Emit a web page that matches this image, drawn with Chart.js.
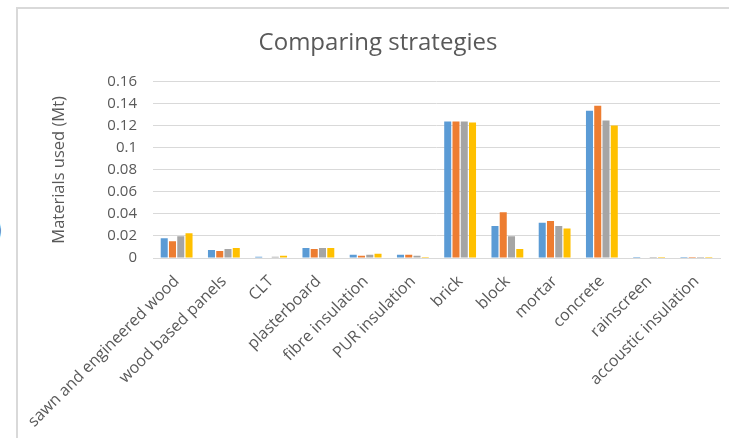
<!DOCTYPE html>
<html>
<head>
<meta charset="utf-8">
<script src="https://cdn.jsdelivr.net/npm/chart.js@4"></script>
<style>
  html, body { margin: 0; padding: 0; background: #fff; overflow: hidden; }
  body { width: 729px; height: 438px; position: relative; font-family: "Open Sans", sans-serif; }
  #frame {
    position: absolute; left: 16px; top: 7px; width: 713px; height: 431px;
    border-left: 2px solid #d9d9d9; border-top: 2px solid #d9d9d9;
    box-sizing: border-box;
  }
  #box { position: absolute; left: 18px; top: 9px; width: 711px; height: 429px; }
  #edge { position: absolute; left: -7px; top: 213px; color: #5f5f5f; font-size: 30px; line-height: 1; }
</style>
</head>
<body>
<span id="edge">)</span>
<div id="frame"></div>
<div id="box"><canvas id="myChart"></canvas></div>
<script>
const categories = [
  "sawn and engineered wood", "wood based panels", "CLT", "plasterboard",
  "fibre insulation", "PUR insulation", "brick", "block", "mortar",
  "concrete", "rainscreen", "accoustic insulation"
];
const strategy1 = [0.018, 0.0073, 0.0012, 0.0091, 0.003, 0.003, 0.124, 0.029, 0.032, 0.1336, 0.0008, 0.0009];
const strategy2 = [0.0152, 0.0064, 0, 0.0082, 0.002, 0.003, 0.124, 0.0415, 0.0336, 0.1382, 0, 0.0009];
const strategy3 = [0.0197, 0.0082, 0.0012, 0.0091, 0.003, 0.002, 0.124, 0.0197, 0.0291, 0.1248, 0.0008, 0.0009];
const strategy4 = [0.0224, 0.0091, 0.002, 0.0091, 0.0039, 0.001, 0.123, 0.0082, 0.0267, 0.1203, 0.0008, 0.0009];
const yTicks = [0, 0.02, 0.04, 0.06, 0.08, 0.1, 0.12, 0.14, 0.16];

const seriesColors = ["#5b9bd5", "#ed7d31", "#a5a5a5", "#ffc000"];
const textGrey = "#595959";
const FONT = "'Open Sans', sans-serif";

const ctx = document.getElementById("myChart").getContext("2d");
new Chart(ctx, {
  type: "bar",
  data: {
    labels: categories,
    datasets: [strategy1, strategy2, strategy3, strategy4].map((d, i) => ({
      label: "Strategy " + (i + 1),
      data: d,
      backgroundColor: seriesColors[i],
      barPercentage: 0.85,
      categoryPercentage: 0.7,
    })),
  },
  options: {
    responsive: true,
    maintainAspectRatio: false,
    animation: false,
    // left padding nudges the centred title; y axis width makes up the rest
    layout: { padding: { left: 18, right: 9, top: 0, bottom: 0 } },
    plugins: {
      legend: { display: false },
      tooltip: { enabled: false },
      title: {
        display: true,
        text: "Comparing strategies",
        color: textGrey,
        font: { family: FONT, size: 24, weight: "normal" },
        padding: { top: 20, bottom: 24 },
      },
    },
    scales: {
      x: {
        grid: { display: false },
        border: { color: "#d9d9d9", width: 1 },
        ticks: {
          color: textGrey,
          font: { family: FONT, size: 16 },
          minRotation: 45,
          maxRotation: 45,
          autoSkip: false,
          padding: 6,
        },
        afterFit: (scale) => { scale.height = 180; },
      },
      y: {
        min: 0,
        max: 0.16,
        afterBuildTicks: (scale) => { scale.ticks = yTicks.map((v) => ({ value: v })); },
        grid: { color: "#d9d9d9", drawTicks: false },
        border: { display: false },
        ticks: {
          color: textGrey,
          font: { family: FONT, size: 15 },
          padding: 16,
          callback: (v) => String(+Number(v).toFixed(2)),
        },
        title: {
          display: true,
          text: "Materials used (Mt)",
          color: textGrey,
          font: { family: FONT, size: 16.5 },
          padding: { top: 13, bottom: 0 },
        },
        afterFit: (scale) => { scale.width = 117; },
      },
    },
  },
});
</script>
</body>
</html>
